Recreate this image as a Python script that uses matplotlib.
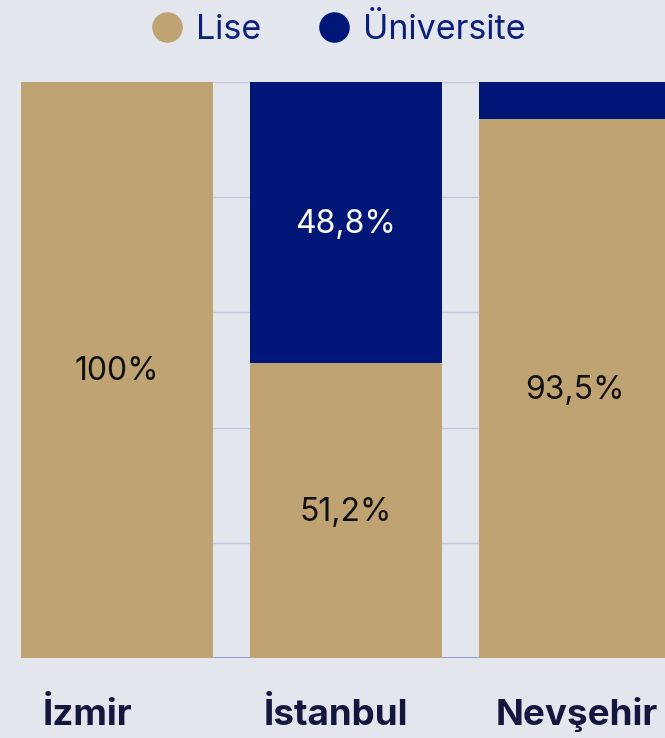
import matplotlib
matplotlib.use("Agg")
import matplotlib.pyplot as plt
from matplotlib.lines import Line2D
import matplotlib.transforms as mtransforms
import numpy as np

categories = ["İzmir", "İstanbul", "Nevşehir"]
lise = [100.0, 51.2, 93.5]
universite = [0.0, 48.8, 6.5]
series_names = ["Lise", "Üniversite"]
lise_labels = ["100%", "51,2%", "93,5%"]
uni_labels = ["", "48,8%", ""]
label_shift_px = [-29, -10, 2]

C_LISE = "#bfa373"
C_UNI = "#001777"
BG = "#e4e6ee"
FONT = ["Inter", "DejaVu Sans"]

plt.rcParams["font.family"] = FONT

fig = plt.figure(figsize=(6.65, 7.38), dpi=100)
fig.patch.set_facecolor(BG)
ax = fig.add_axes([21/665, 80/738, 644/665, 576/738])
ax.set_facecolor(BG)

x = np.arange(len(categories))
w = 0.838
ax.bar(x, lise, width=w, color=C_LISE, zorder=3)
ax.bar(x, universite, width=w, bottom=lise, color=C_UNI, zorder=3)

up = mtransforms.offset_copy(ax.transData, fig=fig, x=0, y=2, units="dots")
for i in range(len(categories)):
    if lise_labels[i]:
        ax.text(x[i], lise[i] / 2, lise_labels[i], ha="center", va="center_baseline",
                fontsize=23, color="#111111", zorder=4, transform=up)
    if uni_labels[i]:
        ax.text(x[i], lise[i] + universite[i] / 2, uni_labels[i], ha="center",
                va="center_baseline", fontsize=23, color="white", zorder=4, transform=up)

ax.set_xlim(-0.419, 2.393)
ax.set_ylim(0, 100)
ax.set_yticks([0, 20, 40, 60, 80, 100])
ax.yaxis.grid(True, color="#c3c8e0", linewidth=1.0, zorder=1)
ax.axhline(0, color="#8393d2", linewidth=1.2, zorder=2)
ax.tick_params(axis="y", left=False, labelleft=False)
ax.set_xticks(x)
ax.set_xticklabels([])
ax.tick_params(axis="x", length=0)
for i, c in enumerate(categories):
    tr = mtransforms.offset_copy(ax.get_xaxis_transform(), fig=fig,
                                 x=label_shift_px[i], y=0, units="dots")
    ax.text(x[i], -67/576, c, transform=tr, ha="center",
            va="baseline", fontsize=26.5, fontweight="bold", color="#15163e")
for s in ax.spines.values():
    s.set_visible(False)

handles = [Line2D([], [], marker="o", linestyle="none", markersize=21,
                  markerfacecolor=c, markeredgecolor=c) for c in (C_LISE, C_UNI)]
fig.legend(handles, series_names, loc="center", bbox_to_anchor=(338/665, 1 - 30/738),
           ncol=2, frameon=False, fontsize=24.5, labelcolor="#0c1e7a",
           handletextpad=0.35, columnspacing=1.64, handlelength=1.0)

fig.savefig("out.png", dpi=100, facecolor=BG)
